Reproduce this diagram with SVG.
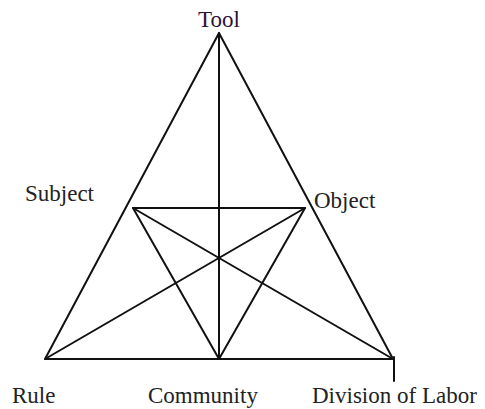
<svg xmlns="http://www.w3.org/2000/svg" width="485" height="409" viewBox="0 0 485 409">
<style>
.ln{stroke:#111;stroke-width:2;fill:none;stroke-linecap:round;stroke-linejoin:round}
.lbl{font-family:'Liberation Serif','Times New Roman','DejaVu Serif',serif;font-size:23px;fill:#222}
</style>
<rect width="485" height="409" fill="#fff"/>
<g id="connectors">
<path class="ln" d="M45,359 L219,33 L393,359 Z"/>
<line class="ln" x1="219" y1="33" x2="219" y2="359"/>
<line class="ln" x1="133" y1="208" x2="305" y2="208"/>
<line class="ln" x1="133" y1="208" x2="219" y2="359"/>
<line class="ln" x1="305" y1="208" x2="219" y2="359"/>
<line class="ln" x1="133" y1="208" x2="393" y2="359"/>
<line class="ln" x1="305" y1="208" x2="45" y2="359"/>
<line class="ln" x1="394" y1="357" x2="394" y2="381"/>
</g>
<g id="tool"><text class="lbl" x="219" y="27" text-anchor="middle" font-family="Liberation Serif, serif" style="fill:#2a1238">Tool</text></g>
<g id="subject"><text class="lbl" x="25" y="201">Subject</text></g>
<g id="object"><text class="lbl" x="314" y="208">Object</text></g>
<g id="rule"><text class="lbl" x="12" y="403">Rule</text></g>
<g id="community"><text class="lbl" x="148" y="403">Community</text></g>
<g id="division"><text class="lbl" x="312" y="403">Division of Labor</text></g>
</svg>
